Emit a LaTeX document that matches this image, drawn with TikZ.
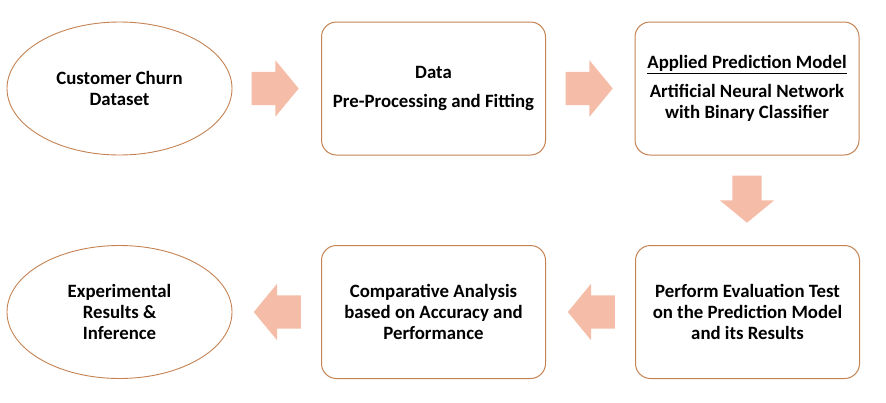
\documentclass[tikz,border=0pt]{standalone}
\usepackage{fontspec}
\setmainfont{Carlito}
\usepackage{tikz}
\usetikzlibrary{positioning, shapes.geometric, shapes.arrows, calc}

\definecolor{boxline}{RGB}{196,130,82}
\definecolor{arrowfill}{RGB}{245,188,168}

\begin{document}
\begin{tikzpicture}[x=1pt, y=-1pt, every node/.style={font=\fontsize{18.8}{20.8}\selectfont\bfseries},
    stagebox/.style={rectangle, draw=boxline, line width=1pt, rounded corners=15pt, minimum width=224pt, minimum height=133pt, align=center, inner sep=2pt},
    stageoval/.style={ellipse, draw=boxline, line width=0.9pt, minimum width=225pt, minimum height=133pt, align=center, inner sep=0pt},
    fatarrow/.style={single arrow, fill=arrowfill, draw=none, anchor=tail, minimum height=47pt, inner xsep=0pt, inner ysep=16.5pt, single arrow head extend=11.5pt, single arrow tip angle=101},
    downarrow/.style={fatarrow, shape border rotate=270, inner xsep=14.5pt, inner ysep=0pt, single arrow head extend=12.5pt}]
    \useasboundingbox (0,0) rectangle (886,402);
    \node[stageoval](dataset) at (119.5,88.5){Customer Churn\\Dataset};
    \node[stagebox](prep) at (433.5,88.5){Data\\[8pt]Pre-Processing and Fitting};
    \node[stagebox](model) at (747,88.5){\underline{Applied Prediction Model}\\[8pt]Artificial Neural Network\\with Binary Classifier};
    \node[stagebox](evaluate) at (747.5,312){Perform Evaluation Test\\on the Prediction Model\\and its Results};
    \node[stagebox](compare) at (433.5,312){Comparative Analysis\\based on Accuracy and\\Performance};
    \node[stageoval](results) at (119.5,312){Experimental\\Results \&\\Inference};
    % Arrows
    \node[fatarrow](a1) at ($(dataset.east)+(19,0)$){};
    \node[fatarrow](a2) at ($(prep.east)+(19.5,0)$){};
    \node[downarrow](a3) at ($(model.south)+(0,20)$){};
    \node[fatarrow, shape border rotate=180](a4) at ($(evaluate.west)+(-20,0)$){};
    \node[fatarrow, shape border rotate=180](a5) at ($(compare.west)+(-20,0)$){};
\end{tikzpicture}
\end{document}
